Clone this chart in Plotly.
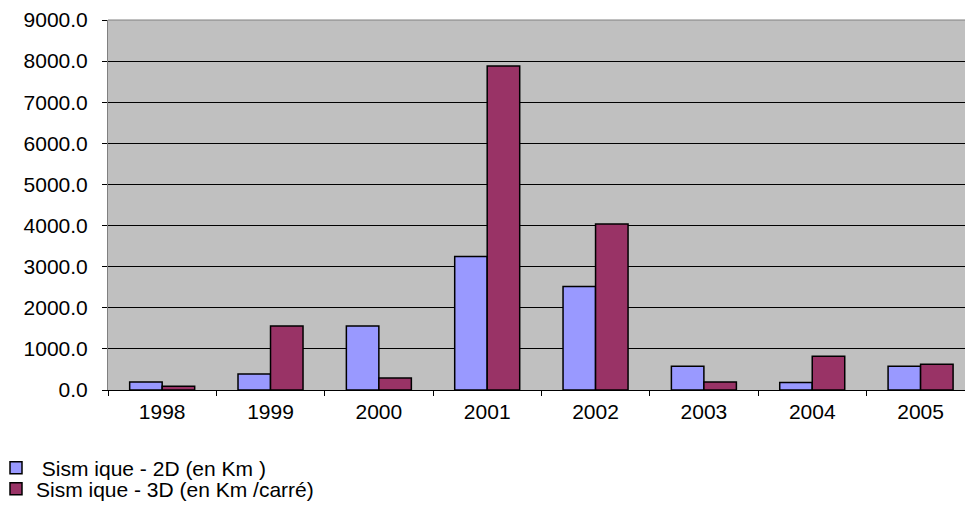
import plotly.graph_objects as go

years = ["1998", "1999", "2000", "2001", "2002", "2003", "2004", "2005"]
sismique_2d = [195, 390, 1555, 3250, 2520, 575, 185, 575]
sismique_3d = [90, 1555, 290, 7880, 4040, 195, 820, 625]

name_2d = " Sism ique - 2D (en Km )"
name_3d = "Sism ique - 3D (en Km /carré)"

W, H = 965, 514
L, T, B = 108, 20, 124

font = dict(family="Liberation Sans, Arial, sans-serif", size=21, color="black")

fig = go.Figure()
fig.add_trace(go.Bar(x=years, y=sismique_2d, name=name_2d, legend="legend",
                     marker=dict(color="#9999FF", line=dict(color="black", width=1.5))))
fig.add_trace(go.Bar(x=years, y=sismique_3d, name=name_3d, legend="legend2",
                     marker=dict(color="#993366", line=dict(color="black", width=1.5))))

plot_w = W - L
plot_h = H - T - B


def px_x(px):
    return (px - L) / plot_w


def px_y(py):
    return (H - B - py) / plot_h


legend_common = dict(xanchor="left", yanchor="middle", bgcolor="rgba(0,0,0,0)",
                     font=font, itemwidth=30)

fig.update_layout(
    width=W, height=H,
    margin=dict(l=L, r=0, t=T, b=B, pad=0, autoexpand=False),
    paper_bgcolor="white", plot_bgcolor="#C0C0C0",
    font=font,
    barmode="group", bargap=0.4, bargroupgap=0,
    showlegend=True,
    legend=dict(x=px_x(-4), y=px_y(468), **legend_common),
    legend2=dict(x=px_x(-4), y=px_y(489), **legend_common),
    xaxis=dict(type="category", range=[-0.5, 7.41], showline=True, linecolor="black",
               linewidth=1, ticks="outside", ticklen=5, tickcolor="black",
               tickson="boundaries", showgrid=False, tickfont=font,
               ticklabelstandoff=3, automargin=False),
    yaxis=dict(range=[0, 9000], dtick=1000, tickformat=".1f", showline=True,
               linecolor="#808080", linewidth=1, ticks="outside", ticklen=5,
               tickcolor="black", showgrid=True, gridcolor="black", gridwidth=1,
               zeroline=False, tickfont=font, ticklabelstandoff=10,
               automargin=False),
)
fig.add_shape(type="line", xref="paper", yref="paper", x0=0, x1=1, y0=1, y1=1,
              line=dict(color="#808080", width=1))

fig.write_html("out.html")
